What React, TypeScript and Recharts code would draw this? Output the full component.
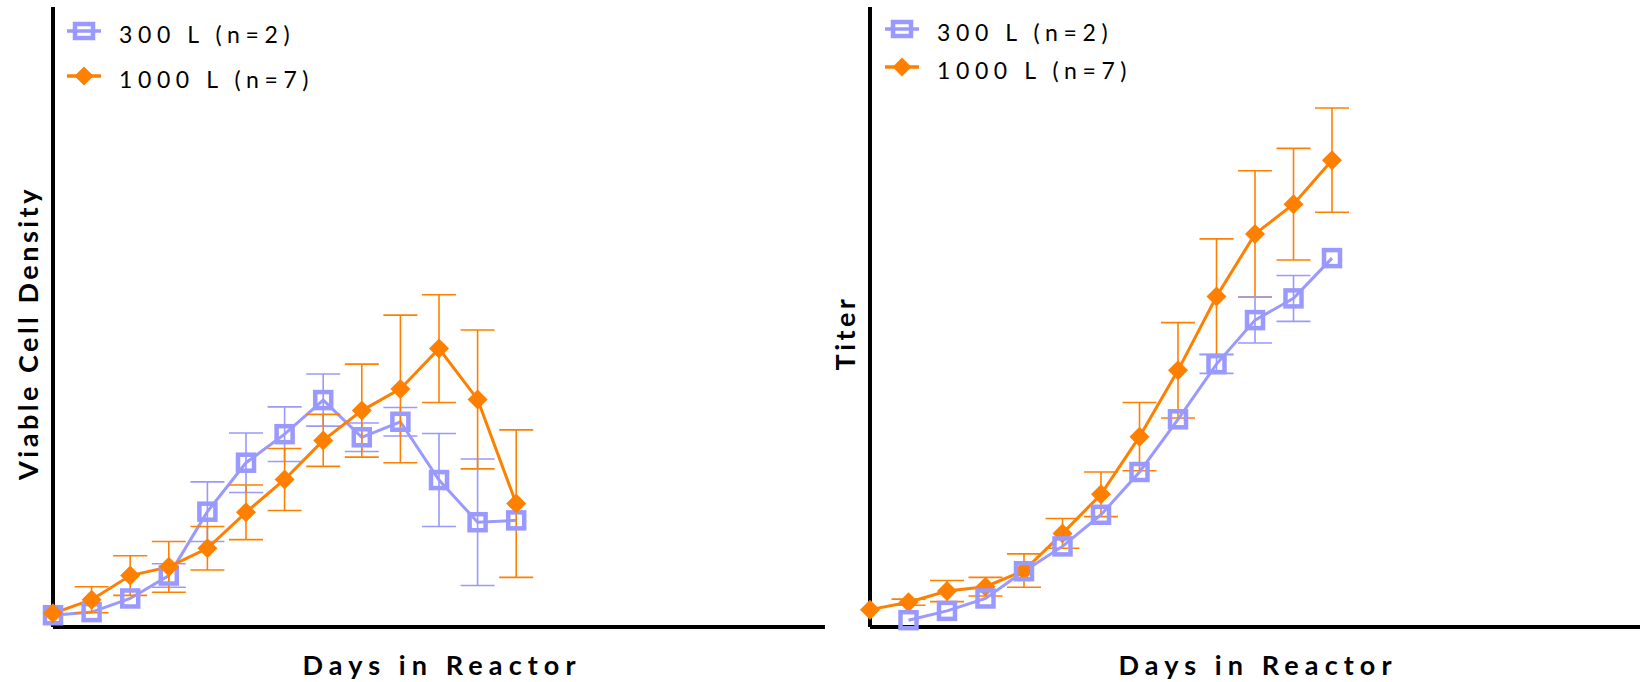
import React from "react";
import { LineChart, Line, XAxis, YAxis, ErrorBar, Legend } from "recharts";

const BLUE = "#9999ff";
const ORANGE = "#ff8000";
const FONT = "Lato, 'Open Sans', sans-serif";

const S300 = "300 L (n=2)";
const S1000 = "1000 L (n=7)";
const legendOrder = [S300, S1000];

const days = [0, 1, 2, 3, 4, 5, 6, 7, 8, 9, 10, 11, 12];

// viable cell density (arbitrary units, axis unlabelled)
const vcd300 = [1.9, 2.4, 4.6, 8.3, 18.6, 26.5, 31.1, 36.6, 30.6, 33.1, 23.7, 16.9, 17.2];
const vcd300Err = [0, 0, 0, 1.9, 4.8, 4.8, 4.4, 4.2, 2.3, 2.3, 7.5, 10.2, 0];
const vcd1000 = [2.2, 4.4, 8.3, 9.7, 12.7, 18.5, 23.8, 30.1, 34.9, 38.4, 44.9, 36.7, 19.9];
const vcd1000Err = [0, 2.1, 3.2, 4.1, 3.5, 4.4, 5.0, 4.2, 7.5, 11.9, 8.7, 11.2, 11.9];

// titer
const titer300 = [null, 1.1, 2.6, 4.6, 9.0, 13.0, 18.1, 25.0, 33.5, 42.4, 49.5, 53.0, 59.5];
const titer300Err = [0, 0, 0, 0, 0, 0, 0, 0, 0, 1.5, 3.7, 3.7, 0];
const titer1000 = [2.8, 4.0, 5.8, 6.5, 9.1, 15.1, 21.4, 30.7, 41.4, 53.3, 63.4, 68.2, 75.3];
const titer1000Err = [0, 0.5, 1.7, 1.5, 2.7, 2.4, 3.6, 5.5, 7.7, 9.3, 10.2, 9.0, 8.4];

const buildRows = (a: (number | null)[], aErr: number[], b: (number | null)[], bErr: number[]) =>
  days.map((day, i) => ({ day, a: a[i], aErr: aErr[i], b: b[i], bErr: bErr[i] }));

const vcdRows = buildRows(vcd300, vcd300Err, vcd1000, vcd1000Err);
const titerRows = buildRows(titer300, titer300Err, titer1000, titer1000Err);

const CHART_H = 682;
const X_AXIS_H = 55;
const TOP = 7;

const squareDot = (props: any) => {
  const { cx, cy, index } = props;
  if (cx == null || cy == null) return <g key={`s-${index}`} />;
  return (
    <rect key={`s-${index}`} x={cx - 8} y={cy - 8} width={16} height={16} fill="none" stroke={BLUE} strokeWidth={4.5} />
  );
};

const diamondDot = (props: any) => {
  const { cx, cy, index } = props;
  if (cx == null || cy == null) return <g key={`d-${index}`} />;
  return (
    <polygon
      key={`d-${index}`}
      points={`${cx},${cy - 10} ${cx + 10},${cy} ${cx},${cy + 10} ${cx - 10},${cy}`}
      fill={ORANGE}
    />
  );
};

const LegendIcon = ({ name }: { name: string }) => (
  <svg width={34} height={24}>
    {name === S300 ? (
      <g>
        <line x1={0} y1={12} x2={34} y2={12} stroke={BLUE} strokeWidth={3.5} />
        <rect x={8} y={5} width={18} height={14} fill="none" stroke={BLUE} strokeWidth={4.5} />
      </g>
    ) : (
      <g>
        <line x1={0} y1={12} x2={34} y2={12} stroke={ORANGE} strokeWidth={3.5} />
        <polygon points="17,2.5 26.5,12 17,21.5 7.5,12" fill={ORANGE} />
      </g>
    )}
  </svg>
);

const makeLegend = (rowH: number) => (props: any) => {
  const items = [...(props.payload || [])].sort(
    (p: any, q: any) => legendOrder.indexOf(p.value) - legendOrder.indexOf(q.value)
  );
  return (
    <div style={{ fontFamily: FONT }}>
      {items.map((entry: any) => (
        <div key={entry.value} style={{ display: "flex", alignItems: "center", height: rowH }}>
          <LegendIcon name={entry.value} />
          <span style={{ marginLeft: 18, fontSize: 23, letterSpacing: 5.6, color: "#000", position: "relative", top: 3 }}>
            {entry.value}
          </span>
        </div>
      ))}
    </div>
  );
};

const axisLabelStyle = { fontFamily: FONT, fontWeight: 700, fontSize: 27, fill: "#000" };

interface PanelProps {
  rows: any[];
  width: number;
  yAxisW: number;
  marginRight: number;
  yLabel: string;
  legendLeft: number;
  legendTop: number;
  legendRowH: number;
  orangeOnTop: boolean;
}

const Panel: React.FC<PanelProps> = ({ rows, width, yAxisW, marginRight, yLabel, legendLeft, legendTop, legendRowH, orangeOnTop }) => {
  const plotW = width - yAxisW - marginRight;
  const blue = (
    <Line key="b300" dataKey="a" name={S300} type="linear" stroke={BLUE} strokeWidth={3} dot={squareDot} activeDot={false} isAnimationActive={false}>
      <ErrorBar dataKey="aErr" direction="y" width={17} stroke={BLUE} strokeWidth={1.6} isAnimationActive={false} />
    </Line>
  );
  const orange = (
    <Line key="b1000" dataKey="b" name={S1000} type="linear" stroke={ORANGE} strokeWidth={3} dot={diamondDot} activeDot={false} isAnimationActive={false}>
      <ErrorBar dataKey="bErr" direction="y" width={17} stroke={ORANGE} strokeWidth={1.6} isAnimationActive={false} />
    </Line>
  );
  const xLabel = () => (
    <text x={yAxisW + plotW / 2 + 3} y={CHART_H - 7} textAnchor="middle" style={{ ...axisLabelStyle, letterSpacing: 6.1 }}>
      Days in Reactor
    </text>
  );
  const yLabelEl = () => (
    <text
      x={yAxisW - 26}
      y={333}
      transform={`rotate(-90, ${yAxisW - 26}, 333)`}
      textAnchor="middle"
      dominantBaseline="central"
      style={{ ...axisLabelStyle, letterSpacing: 3.5 }}
    >
      {yLabel}
    </text>
  );
  return (
    <LineChart width={width} height={CHART_H} data={rows} margin={{ top: TOP, right: marginRight, bottom: 0, left: 0 }}>
      <XAxis
        type="number"
        dataKey="day"
        domain={[0, 20]}
        ticks={[]}
        tick={false}
        tickLine={false}
        axisLine={{ stroke: "#000", strokeWidth: 4 }}
        height={X_AXIS_H}
        label={xLabel}
      />
      <YAxis
        type="number"
        domain={[0, 100]}
        ticks={[]}
        tick={false}
        tickLine={false}
        axisLine={{ stroke: "#000", strokeWidth: 4 }}
        width={yAxisW}
        label={yLabelEl}
      />
      <Legend
        layout="vertical"
        align="center"
        verticalAlign="middle"
        content={makeLegend(legendRowH)}
        wrapperStyle={{ position: "absolute", left: legendLeft, top: legendTop, width: "auto", height: "auto" }}
      />
      {orangeOnTop ? [blue, orange] : [orange, blue]}
    </LineChart>
  );
};

export default function App() {
  return (
    <div style={{ position: "absolute", left: 0, top: 0, width: 1640, height: 682, background: "#fff" }}>
      <div style={{ position: "absolute", left: 0, top: 0 }}>
        <Panel
          rows={vcdRows}
          width={840}
          yAxisW={53}
          marginRight={15}
          yLabel="Viable Cell Density"
          legendLeft={67}
          legendTop={8}
          legendRowH={45}
          orangeOnTop={true}
        />
      </div>
      <div style={{ position: "absolute", left: 820, top: 0 }}>
        <Panel
          rows={titerRows}
          width={820}
          yAxisW={50}
          marginRight={0}
          yLabel="Titer"
          legendLeft={65}
          legendTop={10}
          legendRowH={38}
          orangeOnTop={false}
        />
      </div>
    </div>
  );
}
